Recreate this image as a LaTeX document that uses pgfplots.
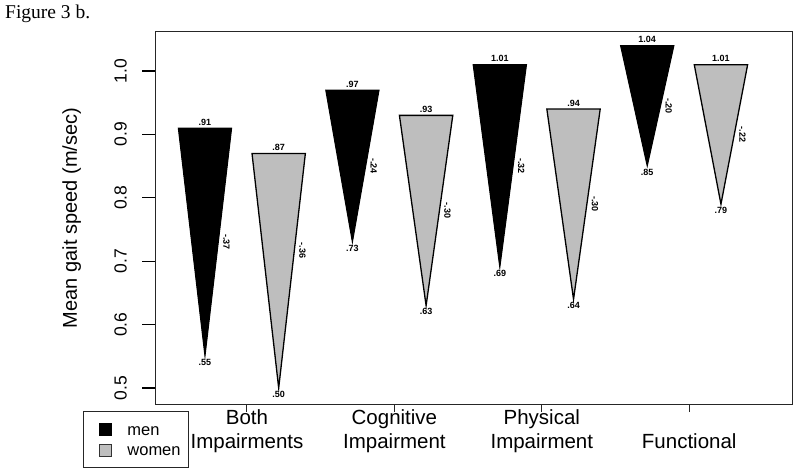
\documentclass[border=0pt]{standalone}
\usepackage{fontspec}
\setmainfont{Liberation Sans}
\newfontfamily\titlefont{Liberation Serif}
\usepackage{pgfplots}
\pgfplotsset{compat=1.18}
\definecolor{womengray}{RGB}{190,190,190}
\newcommand{\twol}[2]{\begin{tabular}{@{}c@{}}#1\\#2\end{tabular}}
\newcommand{\vl}{\bfseries\fontsize{9bp}{10bp}\selectfont}
\tikzset{
  men/.style={fill=black, draw=black, line width=1bp},
  women/.style={fill=womengray, draw=black, line width=1.3bp},
  toplab/.style={anchor=base, inner sep=0pt, yshift=3bp, font=\vl},
  botlab/.style={anchor=north, inner sep=0pt, yshift=-2.5bp, font=\vl},
  difflab/.style={xshift=5bp, rotate=-90, anchor=base, inner sep=0pt, font=\vl},
  ylab/.style={xshift=-28bp, rotate=90, anchor=south, inner sep=0pt, font=\fontsize{17.5bp}{20bp}\selectfont},
}
\begin{document}
\begin{tikzpicture}
\useasboundingbox (0,0) rectangle (800bp,475bp);
\node[anchor=base west, inner sep=0pt, font=\titlefont\fontsize{19.5bp}{22bp}\selectfont] at (5bp,456.5bp) {Figure 3 b.};
\begin{axis}[
  at={(155bp,71bp)}, anchor=south west,
  width=637bp, height=372bp, scale only axis,
  xmin=0.322, xmax=8.964, ymin=0.4748, ymax=1.0615,
  clip=false,
  axis line style={line width=1bp, black!85},
  tick align=outside, xtick pos=left, ytick pos=left, major tick length=8bp,
  tick style={line width=1bp, black!85},
  xtick={1.57,3.57,5.57,7.57},
  xticklabels={\twol{Both}{Impairments}, \twol{Cognitive}{Impairment}, \twol{Physical}{Impairment}, \twol{}{Functional}},
  xticklabel style={anchor=north, inner sep=0pt, yshift=5bp, font=\fontsize{20.5bp}{24bp}\selectfont},
  ytick={0.5,0.6,0.7,0.8,0.9,1.0},
  yticklabels={},
  ytick style={draw=none},
  ylabel={Mean gait speed (m/sec)},
  ylabel style={at={(axis description cs:-0.1225,0.5)}, anchor=base, inner sep=0pt, font=\fontsize{20bp}{24bp}\selectfont},
  legend image code/.code={\path (0bp,0bp); \draw[line width=0.8bp,#1] (7bp,-6bp) rectangle (19.5bp,6bp);},
  legend cell align=left,
  legend style={at={(axis description cs:-0.1130,-0.0188)}, anchor=north west,
    draw=black!85, line width=1bp, fill=white,
    inner xsep=8bp, inner ysep=10bp, row sep=4.5bp, column sep=15.5bp,
    font=\fontsize{16.5bp}{20bp}\selectfont,
    nodes={inner sep=0pt, text height=14bp, text depth=2bp}},
]
\addlegendimage{fill=black, draw=black}
\addlegendentry{men}
\addlegendimage{fill=womengray, draw=black!80}
\addlegendentry{women}

% Both Impairments
\addplot[men, forget plot] coordinates {(0.638,0.91) (1.362,0.91) (1,0.55)} -- cycle;
\addplot[women, forget plot] coordinates {(1.638,0.87) (2.362,0.87) (2,0.50)} -- cycle;
% Cognitive Impairment
\addplot[men, forget plot] coordinates {(2.638,0.97) (3.362,0.97) (3,0.73)} -- cycle;
\addplot[women, forget plot] coordinates {(3.638,0.93) (4.362,0.93) (4,0.63)} -- cycle;
% Physical Impairment
\addplot[men, forget plot] coordinates {(4.638,1.01) (5.362,1.01) (5,0.69)} -- cycle;
\addplot[women, forget plot] coordinates {(5.638,0.94) (6.362,0.94) (6,0.64)} -- cycle;
% Functional
\addplot[men, forget plot] coordinates {(6.638,1.04) (7.362,1.04) (7,0.85)} -- cycle;
\addplot[women, forget plot] coordinates {(7.638,1.01) (8.362,1.01) (8,0.79)} -- cycle;

% y tick positions and labels
\coordinate (ta) at (axis cs:0.322,0.5);
\coordinate (tb) at (axis cs:0.322,0.6);
\coordinate (tc) at (axis cs:0.322,0.7);
\coordinate (td) at (axis cs:0.322,0.8);
\coordinate (te) at (axis cs:0.322,0.9);
\coordinate (tf) at (axis cs:0.322,1.0);
\node[ylab] at (axis cs:0.322,0.5) {0.5};
\node[ylab] at (axis cs:0.322,0.6) {0.6};
\node[ylab] at (axis cs:0.322,0.7) {0.7};
\node[ylab] at (axis cs:0.322,0.8) {0.8};
\node[ylab] at (axis cs:0.322,0.9) {0.9};
\node[ylab] at (axis cs:0.322,1.0) {1.0};

% top values
\node[toplab] at (axis cs:1,0.91) {.91};
\node[toplab] at (axis cs:2,0.87) {.87};
\node[toplab] at (axis cs:3,0.97) {.97};
\node[toplab] at (axis cs:4,0.93) {.93};
\node[toplab] at (axis cs:5,1.01) {1.01};
\node[toplab] at (axis cs:6,0.94) {.94};
\node[toplab] at (axis cs:7,1.04) {1.04};
\node[toplab] at (axis cs:8,1.01) {1.01};
% bottom values
\node[botlab] at (axis cs:1,0.55) {.55};
\node[botlab] at (axis cs:2,0.50) {.50};
\node[botlab] at (axis cs:3,0.73) {.73};
\node[botlab] at (axis cs:4,0.63) {.63};
\node[botlab] at (axis cs:5,0.69) {.69};
\node[botlab] at (axis cs:6,0.64) {.64};
\node[botlab] at (axis cs:7,0.85) {.85};
\node[botlab] at (axis cs:8,0.79) {.79};
% differences
\node[difflab] at (axis cs:1.181,0.73) {-.37};
\node[difflab] at (axis cs:2.212,0.717) {-.36};
\node[difflab] at (axis cs:3.181,0.85) {-.24};
\node[difflab] at (axis cs:4.181,0.78) {-.30};
\node[difflab] at (axis cs:5.181,0.85) {-.32};
\node[difflab] at (axis cs:6.181,0.79) {-.30};
\node[difflab] at (axis cs:7.181,0.945) {-.20};
\node[difflab] at (axis cs:8.181,0.90) {-.22};
\end{axis}
\draw[line width=1.3bp, black] (ta) -- ++(-13bp,0bp);
\draw[line width=1.3bp, black] (tb) -- ++(-13bp,0bp);
\draw[line width=1.3bp, black] (tc) -- ++(-13bp,0bp);
\draw[line width=1.3bp, black] (td) -- ++(-13bp,0bp);
\draw[line width=1.3bp, black] (te) -- ++(-13bp,0bp);
\draw[line width=1.3bp, black] (tf) -- ++(-13bp,0bp);
\end{tikzpicture}
\end{document}
